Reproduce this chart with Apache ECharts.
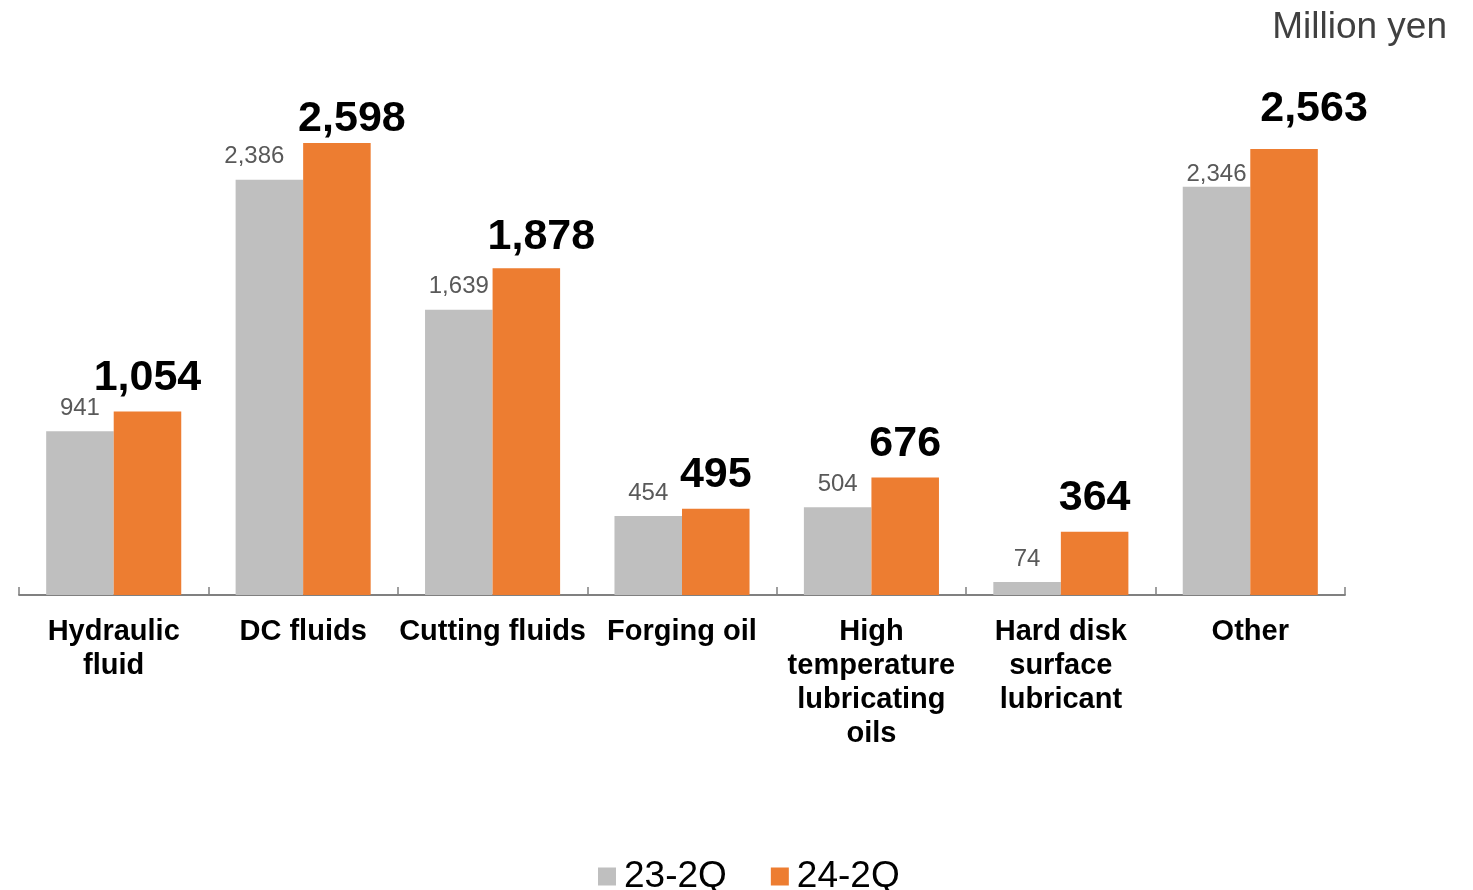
<!DOCTYPE html>
<html>
<head>
<meta charset="utf-8">
<script src="https://cdn.jsdelivr.net/npm/echarts@6/dist/echarts.min.js"></script>
<style>
  html, body { margin: 0; padding: 0; background: #fff; }
  #chart { width: 1473px; height: 890px; }
</style>
</head>
<body>
<div id="chart"></div>
<script>
// 分类
const categories = [
  'Hydraulic\nfluid',
  'DC fluids',
  'Cutting fluids',
  'Forging oil',
  'High\ntemperature\nlubricating\noils',
  'Hard disk\nsurface\nlubricant',
  'Other'
]
// 23-2Q
const prevValues = [941, 2386, 1639, 454, 504, 74, 2346]
// 24-2Q
const currValues = [1054, 2598, 1878, 495, 676, 364, 2563]

// 标签手动微调（原图里部分标签被挪过位置）
const prevLabelShift = [[0, 0], [-15, 0], [0, 0], [0, 0], [0, 0], [0, 0], [0, 11]]
const currLabelShift = [[0, 0], [15, 10], [15, 2], [0, 0], [0, 0], [0, 0], [30, -6]]

const fmt = p => p.value.toLocaleString('en-US')
const font = 'Liberation Sans, Arial, sans-serif'

const withShift = (vals, shifts) => vals.map((v, i) => ({
  value: v,
  label: { offset: shifts[i] }
}))

const chart = echarts.init(document.getElementById('chart'))
chart.setOption({
  animation: false,
  textStyle: { fontFamily: font },
  title: {
    text: 'Million yen',
    right: 21,
    top: 4,
    textStyle: { fontSize: 37, fontWeight: 'normal', color: '#404040', fontFamily: font }
  },
  legend: {
    top: 853,
    left: 593,
    icon: 'rect',
    itemWidth: 18,
    itemHeight: 18,
    itemGap: 44,
    textStyle: { fontSize: 37, color: '#000', fontFamily: font, padding: [0, 0, 0, 3] },
    data: ['23-2Q', '24-2Q']
  },
  grid: { left: 19, right: 128, top: 73, bottom: 295 },
  xAxis: {
    type: 'category',
    data: categories,
    axisLine: { lineStyle: { color: '#808080', width: 1.8 } },
    axisTick: {
      show: true,
      interval: 0,
      alignWithLabel: false,
      inside: true,
      length: 8,
      lineStyle: { color: '#808080', width: 1.5 }
    },
    axisLabel: {
      interval: 0,
      margin: 20,
      fontSize: 29,
      fontWeight: 'bold',
      lineHeight: 34,
      color: '#000',
      fontFamily: font
    }
  },
  yAxis: {
    type: 'value',
    min: 0,
    max: 3000,
    show: false,
    splitLine: { show: false }
  },
  series: [
    {
      name: '23-2Q',
      type: 'bar',
      data: withShift(prevValues, prevLabelShift),
      barGap: '0%',
      barCategoryGap: '28.7%',
      itemStyle: { color: '#BFBFBF' },
      label: {
        show: true,
        position: 'top',
        distance: 11,
        formatter: fmt,
        fontSize: 24,
        color: '#595959',
        fontFamily: font
      }
    },
    {
      name: '24-2Q',
      type: 'bar',
      data: withShift(currValues, currLabelShift),
      itemStyle: { color: '#ED7D31' },
      label: {
        show: true,
        position: 'top',
        distance: 12,
        formatter: fmt,
        fontSize: 43,
        fontWeight: 'bold',
        color: '#000',
        fontFamily: font
      }
    }
  ]
})
</script>
</body>
</html>
